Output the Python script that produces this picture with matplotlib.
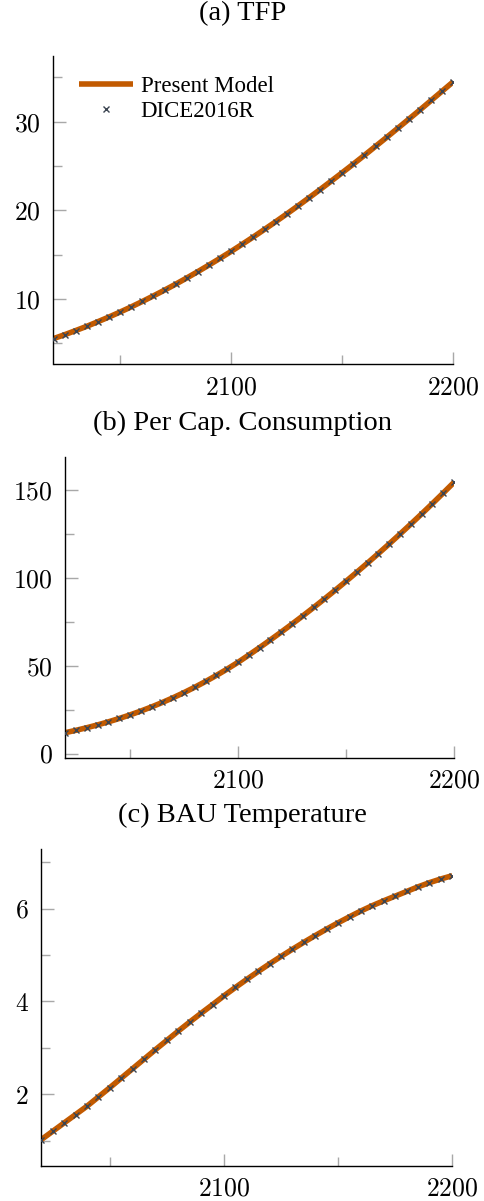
import matplotlib
matplotlib.use("Agg")
import matplotlib.pyplot as plt
from matplotlib.ticker import MultipleLocator

plt.rcParams['font.family'] = 'serif'
plt.rcParams['font.serif'] = ['cmr10']
plt.rcParams['axes.formatter.use_mathtext'] = True

# five-year steps, 2020-2200
years = list(range(2020, 2201, 5))

tfp = [5.54, 5.98, 6.45, 6.93, 7.45, 7.98, 8.54, 9.12, 9.73, 10.36,
       11.01, 11.68, 12.38, 13.10, 13.84, 14.60, 15.38, 16.19, 17.01, 17.86,
       18.72, 19.60, 20.50, 21.42, 22.35, 23.30, 24.26, 25.23, 26.22, 27.23,
       28.24, 29.27, 30.30, 31.34, 32.40, 33.46, 34.52]

cons = [11.9, 13.26, 14.74, 16.35, 18.09, 19.99, 22.03, 24.23, 26.60, 29.14,
        31.85, 34.74, 37.82, 41.08, 44.53, 48.16, 52.00, 56.15, 60.40, 64.76,
        69.22, 73.78, 78.44, 83.21, 88.08, 93.05, 98.12, 103.30, 108.58, 113.96,
        119.44, 125.03, 130.72, 136.51, 142.40, 148.40, 154.50]

temp = [1.02, 1.20, 1.38, 1.56, 1.74, 1.94, 2.14, 2.345, 2.55, 2.755,
        2.96, 3.16, 3.36, 3.555, 3.745, 3.93, 4.12, 4.30, 4.475, 4.645,
        4.81, 4.97, 5.125, 5.275, 5.42, 5.56, 5.695, 5.825, 5.95, 6.065,
        6.17, 6.27, 6.37, 6.47, 6.56, 6.64, 6.71]

titles = ["(a) TFP", "(b) Per Cap. Consumption", "(c) BAU Temperature"]
series = [tfp, cons, temp]
y_major = [10, 50, 2]
y_minor = [5, 25, 1]

orange = '#c25a00'
xcol = '#3b4451'
tick_col = '#a8a8a8'
text_font = 'Liberation Serif'

W, H = 485, 1201
fig = plt.figure(figsize=(W / 100, H / 100), dpi=100)

# axes boxes in pixels: left, right, top, bottom
boxes = [(53.5, 453.3, 56, 364.3),
         (65.3, 454.0, 457.3, 757.7),
         (41.3, 452.3, 849.3, 1166.0)]
title_y = [14, 423, 815]

for i, (vals, box) in enumerate(zip(series, boxes)):
    l, r, t, b = box
    ax = fig.add_axes([l / W, 1 - b / H, (r - l) / W, (b - t) / H])
    ax.plot(years, vals, color=orange, lw=4.0, solid_capstyle='butt',
            label='Present Model', zorder=2)
    ax.plot(years, vals, ls='none', marker='x', ms=5, mew=1.0,
            color=xcol, label='DICE2016R', zorder=3)

    lo, hi = min(vals), max(vals)
    pad = 0.1 * (hi - lo)
    ax.set_ylim(lo - pad, hi + pad)
    ax.set_xlim(2020, 2200)

    ax.xaxis.set_major_locator(MultipleLocator(100))
    ax.xaxis.set_minor_locator(MultipleLocator(50))
    ax.yaxis.set_major_locator(MultipleLocator(y_major[i]))
    ax.yaxis.set_minor_locator(MultipleLocator(y_minor[i]))

    for s in ['top', 'right']:
        ax.spines[s].set_visible(False)
    for s in ['left', 'bottom']:
        ax.spines[s].set_linewidth(1.0)
        ax.spines[s].set_color('black')

    ax.tick_params(which='major', direction='in', length=9, width=1.0,
                   color=tick_col, labelsize=18.5, pad=9)
    ax.tick_params(which='minor', direction='in', length=6.5, width=1.0,
                   color=tick_col)
    ax.tick_params(axis='x', which='major', pad=8)

    fig.text(0.5, 1 - title_y[i] / H, titles[i], ha='center', va='center',
             fontsize=20.5, family=text_font)

    if i == 0:
        ax.legend(loc='upper left', bbox_to_anchor=(0.04, 0.965),
                  frameon=False, prop={'family': text_font, 'size': 16.5},
                  handlelength=2.35, handletextpad=0.35, labelspacing=0.18,
                  borderaxespad=0.0)

fig.savefig('out.png', dpi=100)
